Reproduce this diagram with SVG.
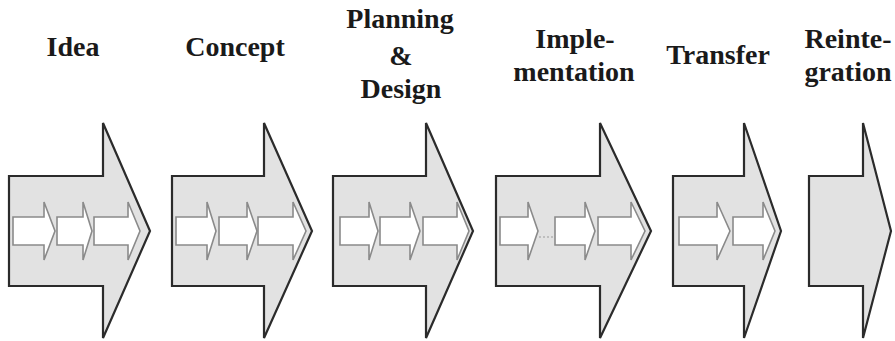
<svg xmlns="http://www.w3.org/2000/svg" width="895" height="341" viewBox="0 0 895 341">
<style>
.big{fill:#e2e2e2;stroke:#2b2b2b;stroke-width:2.2;stroke-linejoin:miter}
.small{fill:#ffffff;stroke:#8a8a8a;stroke-width:1.6;stroke-linejoin:miter}
.lbl{font-family:"Liberation Serif","Times New Roman",serif;font-weight:bold;font-size:28px;fill:#1a1a1a;text-anchor:middle}
.dot{stroke:#9a9a9a;stroke-width:1;stroke-dasharray:2 2;fill:none}
</style>
<rect width="895" height="341" fill="#ffffff"/>
<g id="idea">
<path class="big" d="M9,176 H103 V123 L150,231 L103,338 V286 H9 Z"/>
<path class="small" d="M13,217 H44 V202 L55,231 L44,260 V245 H13 Z"/>
<path class="small" d="M57,217 H83 V202 L92,231 L83,260 V245 H57 Z"/>
<path class="small" d="M94,217 H128 V202 L140,231 L128,260 V245 H94 Z"/>
<text class="lbl" x="73" y="56">Idea</text>
</g>
<g id="concept">
<path class="big" d="M172,176 H264 V123 L312,231 L264,338 V286 H172 Z"/>
<path class="small" d="M176,217 H207 V202 L216,231 L207,260 V245 H176 Z"/>
<path class="small" d="M219,217 H247 V202 L257,231 L247,260 V245 H219 Z"/>
<path class="small" d="M258,217 H293 V202 L306,231 L293,260 V245 H258 Z"/>
<text class="lbl" x="235" y="56">Concept</text>
</g>
<g id="planning">
<path class="big" d="M333,176 H426 V123 L473,231 L426,338 V286 H333 Z"/>
<path class="small" d="M340,217 H369 V202 L378,231 L369,260 V245 H340 Z"/>
<path class="small" d="M380,217 H410 V202 L420,231 L410,260 V245 H380 Z"/>
<path class="small" d="M423,217 H457 V202 L469,231 L457,260 V245 H423 Z"/>
<text class="lbl" x="400" y="28">Planning</text>
<text class="lbl" x="401" y="65">&amp;</text>
<text class="lbl" x="401" y="98">Design</text>
</g>
<g id="implementation">
<path class="big" d="M496,176 H600 V123 L651,231 L600,338 V286 H496 Z"/>
<path class="small" d="M500,217 H528 V202 L538,231 L528,260 V245 H500 Z"/>
<path class="small" d="M555,217 H585 V202 L595,231 L585,260 V245 H555 Z"/>
<path class="small" d="M598,217 H631 V202 L645,231 L631,260 V245 H598 Z"/>
<text class="lbl" x="575" y="48">Imple-</text>
<text class="lbl" x="574" y="81">mentation</text>
</g>
<g id="transfer">
<path class="big" d="M673,176 H744 V123 L781,231 L744,338 V286 H673 Z"/>
<path class="small" d="M679,217 H717 V202 L730,231 L717,260 V245 H679 Z"/>
<path class="small" d="M733,217 H763 V202 L775,231 L763,260 V245 H733 Z"/>
<text class="lbl" x="718" y="64">Transfer</text>
</g>
<g id="reintegration">
<path class="big" d="M809,176 H863 V123 L891,231 L863,338 V286 H809 Z"/>
<text class="lbl" x="848" y="48">Reinte-</text>
<text class="lbl" x="848" y="81">gration</text>
</g>
<g id="connectors">
<line class="dot" x1="539" y1="237" x2="554" y2="237"/>
</g>
</svg>
